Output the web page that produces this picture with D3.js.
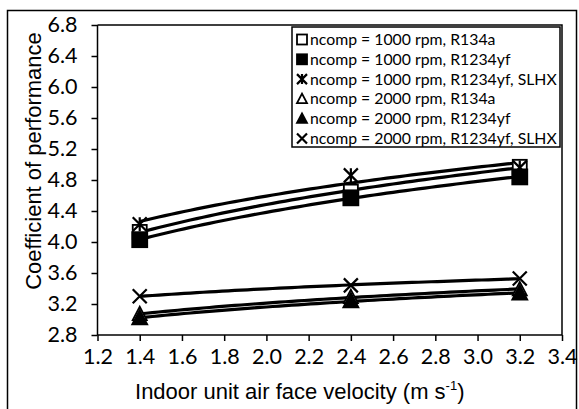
<!DOCTYPE html>
<html><head><meta charset="utf-8">
<script src="https://cdn.jsdelivr.net/npm/d3@7"></script>
<style>html,body{margin:0;padding:0;background:#fff;}svg{display:block;}</style>
</head><body>
<svg id="c" width="579" height="409"></svg>
<script>
const velocities = [1.4, 2.4, 3.2];
const seriesNames = [
  "ncomp = 1000 rpm, R134a",
  "ncomp = 1000 rpm, R1234yf",
  "ncomp = 1000 rpm, R1234yf, SLHX",
  "ncomp = 2000 rpm, R134a",
  "ncomp = 2000 rpm, R1234yf",
  "ncomp = 2000 rpm, R1234yf, SLHX"
];
const markerTypes = ["squareOpen", "squareFilled", "asterisk", "triangleOpen", "triangleFilled", "cross"];
const cop1000R134a = [4.13, 4.65, 4.97];
const cop1000R1234yf = [4.03, 4.57, 4.84];
const cop1000SLHX = [4.23, 4.86, 4.96];
const cop2000R134a = [3.07, 3.29, 3.39];
const cop2000R1234yf = [3.02, 3.24, 3.34];
const cop2000SLHX = [3.30, 3.44, 3.53];
const seriesValues = [cop1000R134a, cop1000R1234yf, cop1000SLHX, cop2000R134a, cop2000R1234yf, cop2000SLHX];
const xTicks = [1.2, 1.4, 1.6, 1.8, 2.0, 2.2, 2.4, 2.6, 2.8, 3.0, 3.2, 3.4];
const yTicks = [2.8, 3.2, 3.6, 4.0, 4.4, 4.8, 5.2, 5.6, 6.0, 6.4, 6.8];

const svg = d3.select("#c");
const L = 97.5, R = 562, T = 25, B = 335;
const x = d3.scaleLinear().domain([1.2, 3.4]).range([L, R]);
const y = d3.scaleLinear().domain([2.8, 6.8]).range([B, T]);
const tickFont = "Lato, 'Open Sans', sans-serif";
const titleFont = "'Liberation Sans', Arial, sans-serif";

// outer frame
svg.append("rect").attr("x", 7.5).attr("y", 10.5).attr("width", 569).attr("height", 420)
  .attr("fill", "none").attr("stroke", "#000").attr("stroke-width", 1.5);

// plot frame top/right
svg.append("path").attr("d", `M${L},${T}H${R}V${B}`).attr("fill", "none").attr("stroke", "#000").attr("stroke-width", 1.5);

// axes
const xAxis = svg.append("g").attr("transform", `translate(0,${B})`)
  .call(d3.axisBottom(x).tickValues(xTicks).tickFormat(d3.format(".1f")).tickSize(6).tickPadding(8));
const yAxis = svg.append("g").attr("transform", `translate(${L},0)`)
  .call(d3.axisLeft(y).tickValues(yTicks).tickFormat(d3.format(".1f")).tickSize(6).tickPadding(14));
[xAxis, yAxis].forEach(g => {
  g.select(".domain").attr("stroke", "#000").attr("stroke-width", 1.5);
  g.selectAll(".tick line").attr("stroke", "#000").attr("stroke-width", 1.5);
  g.selectAll(".tick text").attr("fill", "#000").style("font-family", tickFont).style("font-size", "21.5px");
});
xAxis.select(".domain").attr("d", `M${L},0H${R}`);
yAxis.select(".domain").attr("d", `M0,${B}V${T}`);

// axis titles
const xt = svg.append("text").attr("x", (L + R) / 2 - 30).attr("y", 399).attr("text-anchor", "middle")
  .style("font-family", titleFont).style("font-size", "22px");
xt.append("tspan").text("Indoor unit air face velocity (m s");
xt.append("tspan").attr("dy", -9).style("font-size", "13px").text("-1");
xt.append("tspan").attr("dy", 9).text(")");
svg.append("text").attr("transform", `translate(41,161) rotate(-90)`).attr("text-anchor", "middle")
  .style("font-family", titleFont).style("font-size", "22px")
  .text("Coefficient of performance");

// log trendline fit
function logFit(xs, ys) {
  const lx = xs.map(Math.log);
  const mx = d3.mean(lx), my = d3.mean(ys);
  let sxy = 0, sxx = 0;
  lx.forEach((v, i) => { sxy += (v - mx) * (ys[i] - my); sxx += (v - mx) * (v - mx); });
  const b = sxy / sxx, a = my - b * mx;
  return v => a + b * Math.log(v);
}

function drawMarker(g, type, cx, cy, s) {
  const h = s / 2;
  if (type === "squareOpen" || type === "squareFilled") {
    g.append("rect").attr("x", cx - h).attr("y", cy - h).attr("width", s).attr("height", s)
      .attr("fill", type === "squareOpen" ? "#fff" : "#000").attr("stroke", "#000").attr("stroke-width", 1.8);
  } else if (type === "triangleOpen" || type === "triangleFilled") {
    g.append("path").attr("d", `M${cx},${cy - h * 1.05}L${cx + h},${cy + h * 0.85}L${cx - h},${cy + h * 0.85}Z`)
      .attr("fill", type === "triangleOpen" ? "#fff" : "#000").attr("stroke", "#000").attr("stroke-width", 1.8)
      .attr("stroke-linejoin", "miter");
  } else if (type === "cross") {
    g.append("path").attr("d", `M${cx - h},${cy - h}L${cx + h},${cy + h}M${cx + h},${cy - h}L${cx - h},${cy + h}`)
      .attr("stroke", "#000").attr("stroke-width", 2.2).attr("fill", "none");
  } else if (type === "asterisk") {
    g.append("path").attr("d", `M${cx - h},${cy - h}L${cx + h},${cy + h}M${cx + h},${cy - h}L${cx - h},${cy + h}M${cx},${cy - h}V${cy + h}`)
      .attr("stroke", "#000").attr("stroke-width", 2.2).attr("fill", "none");
  }
}

const line = d3.line().x(d => x(d[0])).y(d => y(d[1])).curve(d3.curveLinear);
const samples = d3.range(0, 61).map(i => 1.4 + (3.2 - 1.4) * i / 60);
const plot = svg.append("g");
seriesValues.forEach((vals, si) => {
  const f = logFit(velocities, vals);
  plot.append("path").datum(samples.map(v => [v, f(v)])).attr("d", line)
    .attr("fill", "none").attr("stroke", "#000").attr("stroke-width", 3.2);
});
seriesValues.forEach((vals, si) => {
  vals.forEach((v, i) => drawMarker(plot, markerTypes[si], x(velocities[i]), y(v), si === 1 || si === 4 ? 15 : 14));
});

// legend
const lg = svg.append("g");
lg.append("rect").attr("x", 292).attr("y", 27).attr("width", 268).attr("height", 120)
  .attr("fill", "#fff").attr("stroke", "#000").attr("stroke-width", 1.5);
seriesNames.forEach((n, i) => {
  const cy = 39.5 + i * 19.8;
  drawMarker(lg, markerTypes[i], 302, cy, 10);
  lg.append("text").attr("x", 310).attr("y", cy + 5.5).style("font-family", tickFont).style("font-size", "15.8px").text(n);
});
</script>
</body></html>
